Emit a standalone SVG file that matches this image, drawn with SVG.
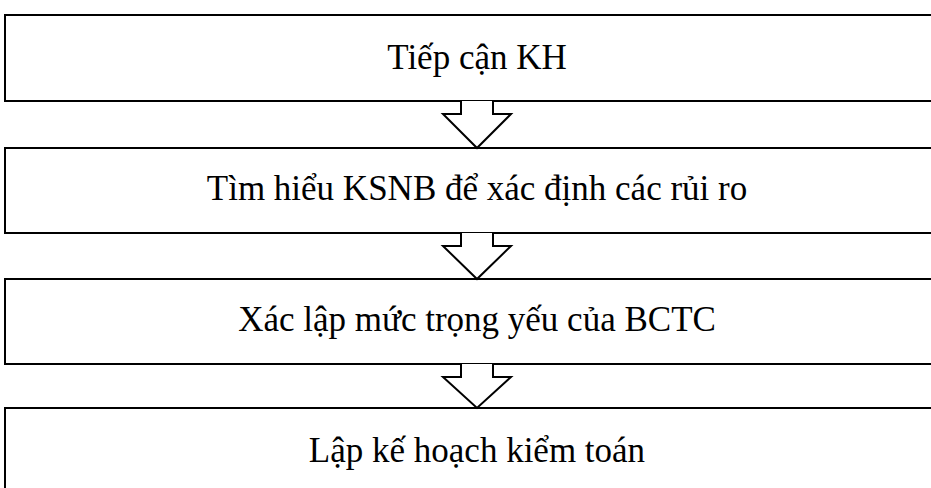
<svg xmlns="http://www.w3.org/2000/svg" width="931" height="488" viewBox="0 0 931 488">
<style>
.box{fill:#fff;stroke:#000;stroke-width:2}
.arr{fill:#fff;stroke:#000;stroke-width:2;stroke-linejoin:miter}
.t{font-family:"Liberation Serif","Times New Roman",serif;font-size:35px;fill:#000;text-anchor:middle}
</style>
<rect width="931" height="488" fill="#fff"/>
<g id="n1"><rect class="box" x="5" y="15" width="940" height="86"/><text class="t" x="477" y="69">Tiếp cận KH</text></g>
<g id="n2"><rect class="box" x="5" y="148" width="940" height="85"/><text class="t" x="477" y="200">Tìm hiểu KSNB để xác định các rủi ro</text></g>
<g id="n3"><rect class="box" x="5" y="279" width="940" height="85"/><text class="t" x="477" y="331">Xác lập mức trọng yếu của BCTC</text></g>
<g id="n4"><rect class="box" x="5" y="408" width="940" height="100"/><text class="t" x="477" y="462">Lập kế hoạch kiểm toán</text></g>
<g id="connectors">
<path class="arr" d="M461,101 V114 H443 L477,148 L511,114 H493 V101"/>
<path class="arr" d="M461,233 V246 H443 L477,279 L511,246 H493 V233"/>
<path class="arr" d="M461,364 V377 H443 L477,408 L511,377 H493 V364"/>
</g>
</svg>
